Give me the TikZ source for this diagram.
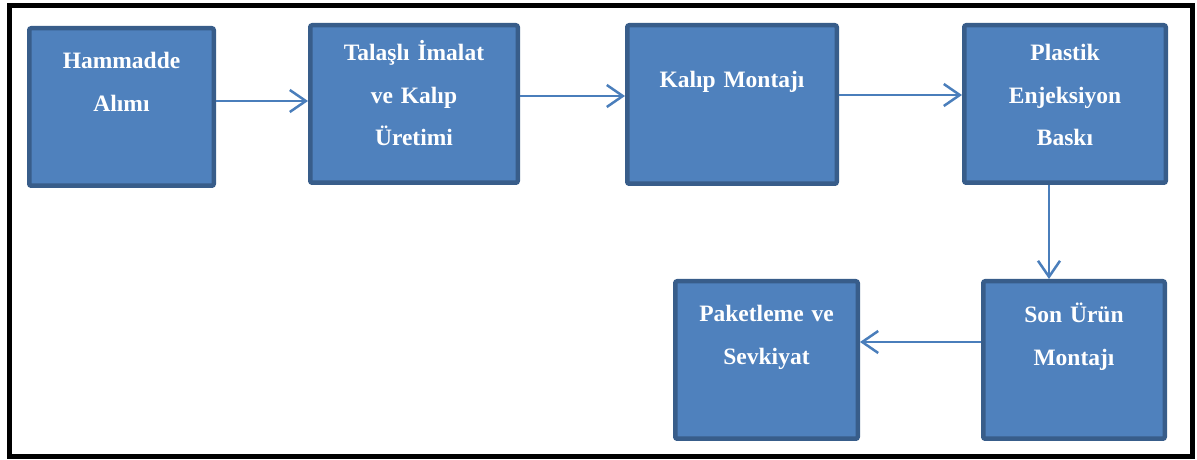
\documentclass[tikz,border=0pt]{standalone}
\usepackage{fontspec}
\setmainfont{Liberation Serif}
\usetikzlibrary{arrows.meta}
\definecolor{boxfill}{HTML}{4F81BD}
\definecolor{boxline}{HTML}{385D8A}
\definecolor{flowline}{HTML}{4A7EBB}
\tikzset{
  x=1pt, y=1pt,
  stepbox/.style={draw=boxline, fill=boxfill, line width=4.5pt,
    rounded corners=2pt, inner sep=0pt},
  steptext/.style={text=white, font=\bfseries\fontsize{23.5}{42.5}\selectfont,
    text width=200pt, align=center, inner sep=0pt, anchor=base},
  flow/.style={draw=flowline, line width=2.5pt,
    -{Straight Barb[length=16pt,width=22pt,line width=2.5pt]}},
  frame/.style={draw=black, line width=5pt}
}
\begin{document}
\begin{tikzpicture}
\useasboundingbox (0,0) rectangle (1197,460);
\draw[frame] (9.5,3) rectangle (1192,454);

% process steps
\node[stepbox, minimum width=184.5pt, minimum height=157.5pt] (b1) at (121.5,353) {};
\node[stepbox, minimum width=207.5pt, minimum height=157.5pt] (b2) at (414,356) {};
\node[stepbox, minimum width=209.5pt, minimum height=158.5pt] (b3) at (732,355.5) {};
\node[stepbox, minimum width=201.5pt, minimum height=157.5pt] (b4) at (1065,356) {};
\node[stepbox, minimum width=181.5pt, minimum height=157.5pt] (b5) at (1074,100) {};
\node[stepbox, minimum width=182.5pt, minimum height=157.5pt] (b6) at (766.5,100) {};

% step labels
\node[steptext] (t1) at (121.5,391) {Hammadde\\Alımı};
\node[steptext] (t2) at (414,399) {Talaşlı İmalat\\ve Kalıp\\Üretimi};
\node[steptext] (t3) at (732,372) {Kalıp Montajı};
\node[steptext] (t4) at (1065,399) {Plastik\\Enjeksiyon\\Baskı};
\node[steptext] (t5) at (1074,137) {Son Ürün\\Montajı};
\node[steptext] (t6) at (766.5,138) {Paketleme ve\\Sevkiyat};

% flow between steps
\draw[flow] ([yshift=6pt]b1.east) -- ([yshift=3pt]b2.west);
\draw[flow] ([yshift=8pt]b2.east) -- ([yshift=8.5pt]b3.west);
\draw[flow] ([yshift=9.5pt]b3.east) -- ([yshift=9pt]b4.west);
\draw[flow] ([xshift=-16pt]b4.south) -- ([xshift=-25pt]b5.north);
\draw[flow] ([yshift=18pt]b5.west) -- ([yshift=18pt]b6.east);
\end{tikzpicture}
\end{document}
